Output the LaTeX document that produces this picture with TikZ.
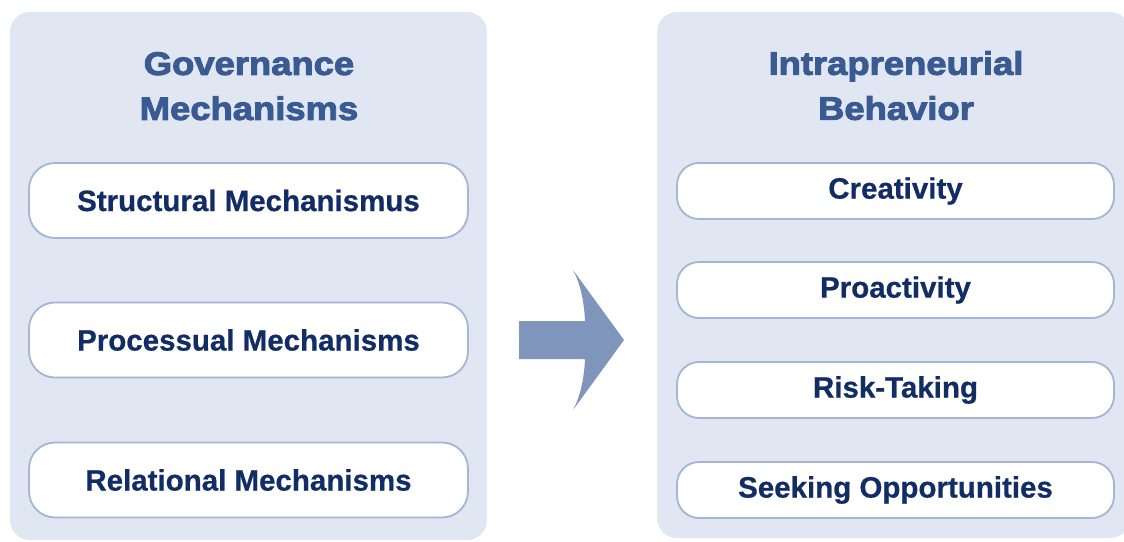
\documentclass[tikz,border=0pt]{standalone}
\usepackage{fontspec}
\setmainfont{Liberation Sans}[BoldFeatures={FakeBold=0.6}]
\newfontfamily\titlefont{Liberation Sans}[FakeStretch=1.12, BoldFeatures={FakeStretch=1.12, FakeBold=3}]
\definecolor{panelfill}{HTML}{E0E6F2}
\definecolor{titleblue}{HTML}{3A5A92}
\definecolor{itemtext}{HTML}{122D66}
\definecolor{itemborder}{HTML}{A3B6D5}
\definecolor{arrowfill}{HTML}{7F95BC}
\begin{document}
\begin{tikzpicture}[x=1pt,y=-1pt,
  panel/.style={fill=panelfill, draw=none, rounded corners=20pt},
  heading/.style={text=titleblue, anchor=north, inner sep=0pt, align=center,
    font=\titlefont\bfseries\fontsize{32.5}{45}\selectfont},
  itembox/.style={draw=itemborder, line width=1.8pt, fill=white, text=itemtext,
    font=\bfseries\fontsize{29.5}{30}\selectfont},
  leftitem/.style={itembox, minimum width=439pt, minimum height=75pt, rounded corners=26pt},
  rightitem/.style={itembox, minimum width=437pt, minimum height=56pt, rounded corners=22pt}
]
\useasboundingbox (0,0) rectangle (1124,541);
\begin{scope}
\clip (0,0) rectangle (1124,541);
% background panels
\fill[panel] (10,12) rectangle (487,540);
\fill[panel] (657,12) rectangle (1130,538);
\end{scope}

% left panel: governance mechanisms
\node[heading] (govtitle) at (249,52) {Governance\\Mechanisms};
\node[leftitem] (structural) at (248.5,200.5) {Structural Mechanismus};
\node[leftitem] (processual) at (248.5,340) {Processual Mechanisms};
\node[leftitem] (relational) at (248.5,480) {Relational Mechanisms};

% right panel: intrapreneurial behavior
\node[heading] (behtitle) at (896,51) {Intrapreneurial\\Behavior};
\node[rightitem] (creativity) at (895.5,191) {Creativity};
\node[rightitem] (proactivity) at (895.5,290) {Proactivity};
\node[rightitem] (risk) at (895.5,390) {Risk-Taking};
\node[rightitem] (seeking) at (895.5,490) {Seeking Opportunities};

% block arrow between the panels
\fill[arrowfill] (519,321) -- (585,321)
  .. controls (584,300) and (580,283) .. (573,270)
  -- (624,340) -- (573,410)
  .. controls (580,397) and (584,380) .. (585,359)
  -- (519,359) -- cycle;
\end{tikzpicture}
\end{document}
